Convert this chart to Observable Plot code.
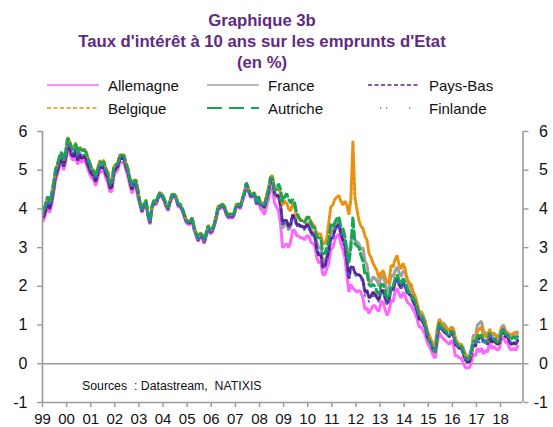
<!DOCTYPE html>
<html>
<head>
<meta charset="utf-8">
<script src="https://cdn.jsdelivr.net/npm/d3@7"></script>
<script src="https://cdn.jsdelivr.net/npm/@observablehq/plot@0.6"></script>
<style>
  html, body { margin: 0; padding: 0; background: #fff; }
  #wrap { position: relative; width: 553px; height: 427px; overflow: hidden; font-family: "Liberation Sans", Arial, sans-serif; }
  #wrap svg.overlay { position: absolute; left: 0; top: 0; pointer-events: none; }
  #chart { position: absolute; left: 0; top: 0; }
</style>
</head>
<body>
<div id="wrap"><div id="chart"></div></div>
<script>
// ---- Data (monthly readings, Jan 1999 – Sep 2018) ----
const startYear = 1999;
const yearLabels = ["99","00","01","02","03","04","05","06","07","08","09","10","11","12","13","14","15","16","17","18"];
const yTicks = [-1, 0, 1, 2, 3, 4, 5, 6];

const allemagne = [
  3.70,3.85,4.05,3.90,4.10,4.40,4.75,4.90,5.10,5.20,5.00,5.20,
  5.55,5.45,5.30,5.25,5.40,5.15,5.30,5.20,5.25,5.20,5.05,4.90,
  4.80,4.75,4.60,4.80,5.00,4.95,5.00,4.80,4.70,4.45,4.45,4.85,
  4.95,5.00,5.20,5.20,5.20,5.00,4.85,4.60,4.40,4.55,4.55,4.30,
  4.10,3.90,4.05,4.15,3.80,3.60,4.00,4.15,4.10,4.25,4.35,4.30,
  4.20,4.05,3.95,4.15,4.30,4.30,4.25,4.05,4.05,3.95,3.80,3.65,
  3.60,3.60,3.70,3.45,3.30,3.15,3.30,3.25,3.10,3.30,3.50,3.35,
  3.40,3.55,3.75,4.00,4.00,4.05,4.00,3.85,3.75,3.80,3.75,3.85,
  4.05,4.05,4.00,4.20,4.35,4.60,4.45,4.30,4.30,4.35,4.10,4.25,
  4.00,3.95,3.85,4.05,4.25,4.55,4.50,4.15,4.05,3.95,3.60,3.00,
  3.05,3.10,3.00,3.15,3.45,3.45,3.30,3.30,3.25,3.25,3.20,3.30,
  3.30,3.15,3.10,3.05,2.75,2.60,2.65,2.30,2.30,2.45,2.60,2.95,
  3.00,3.20,3.30,3.35,3.10,2.95,2.75,2.30,1.85,2.05,1.95,1.90,
  1.85,1.90,1.85,1.70,1.40,1.45,1.30,1.40,1.50,1.50,1.40,1.35,
  1.60,1.60,1.40,1.25,1.35,1.65,1.60,1.85,1.95,1.80,1.70,1.85,
  1.75,1.60,1.55,1.50,1.40,1.30,1.15,0.95,0.95,0.85,0.75,0.55,
  0.45,0.35,0.20,0.15,0.55,0.80,0.70,0.65,0.60,0.55,0.50,0.60,
  0.50,0.20,0.20,0.15,0.15,0.00,-0.10,-0.10,-0.10,0.05,0.25,0.20,
  0.40,0.30,0.40,0.25,0.35,0.30,0.55,0.40,0.45,0.40,0.35,0.40,
  0.65,0.70,0.55,0.55,0.40,0.35,0.40,0.35,0.45
];
const france = [
  3.80,3.95,4.15,4.00,4.20,4.50,4.85,5.00,5.20,5.30,5.10,5.30,
  5.70,5.60,5.45,5.40,5.55,5.30,5.45,5.35,5.40,5.35,5.20,5.05,
  4.95,4.90,4.75,4.95,5.15,5.10,5.15,4.95,4.85,4.60,4.60,5.00,
  5.05,5.10,5.30,5.30,5.30,5.10,4.95,4.70,4.50,4.65,4.65,4.40,
  4.15,3.95,4.10,4.20,3.85,3.65,4.05,4.20,4.15,4.30,4.40,4.35,
  4.25,4.10,4.00,4.20,4.35,4.35,4.30,4.10,4.10,4.00,3.85,3.70,
  3.65,3.65,3.75,3.50,3.35,3.20,3.35,3.30,3.15,3.35,3.55,3.40,
  3.45,3.60,3.80,4.05,4.05,4.10,4.05,3.90,3.80,3.85,3.80,3.90,
  4.10,4.10,4.05,4.25,4.40,4.65,4.50,4.35,4.35,4.40,4.15,4.30,
  4.10,4.05,4.00,4.20,4.40,4.70,4.70,4.35,4.30,4.30,4.05,3.50,
  3.60,3.60,3.45,3.55,3.80,3.75,3.60,3.60,3.55,3.55,3.50,3.60,
  3.65,3.50,3.40,3.35,3.15,3.00,3.00,2.65,2.65,2.80,3.05,3.40,
  3.45,3.60,3.65,3.70,3.45,3.35,3.20,3.00,2.65,3.15,3.45,3.20,
  3.15,3.10,2.95,3.00,2.65,2.55,2.15,2.10,2.25,2.20,2.15,2.00,
  2.30,2.25,2.10,1.85,1.95,2.30,2.25,2.40,2.50,2.35,2.25,2.40,
  2.35,2.15,2.00,1.95,1.80,1.70,1.55,1.30,1.35,1.25,1.10,0.85,
  0.65,0.60,0.50,0.45,0.90,1.15,1.05,1.05,1.00,0.90,0.85,0.95,
  0.90,0.65,0.55,0.50,0.50,0.40,0.25,0.20,0.20,0.40,0.75,0.70,
  1.00,1.05,1.10,0.85,0.80,0.65,0.85,0.70,0.75,0.75,0.70,0.75,
  0.95,1.00,0.85,0.80,0.75,0.70,0.75,0.70,0.80
];
const paysBas = [
  3.80,3.95,4.15,4.00,4.20,4.50,4.85,5.00,5.20,5.30,5.10,5.30,
  5.65,5.55,5.40,5.35,5.50,5.25,5.40,5.30,5.35,5.30,5.15,5.00,
  4.90,4.85,4.70,4.90,5.10,5.05,5.10,4.90,4.80,4.55,4.55,4.95,
  5.05,5.10,5.30,5.30,5.30,5.10,4.95,4.70,4.50,4.65,4.65,4.40,
  4.14,3.94,4.09,4.19,3.84,3.64,4.04,4.19,4.14,4.29,4.39,4.34,
  4.24,4.09,3.99,4.19,4.34,4.34,4.29,4.09,4.09,3.99,3.84,3.69,
  3.64,3.64,3.74,3.49,3.34,3.19,3.34,3.29,3.14,3.34,3.54,3.39,
  3.44,3.59,3.79,4.04,4.04,4.09,4.04,3.89,3.79,3.84,3.79,3.89,
  4.09,4.09,4.04,4.24,4.39,4.64,4.49,4.34,4.34,4.39,4.14,4.29,
  4.10,4.10,4.05,4.25,4.45,4.75,4.75,4.40,4.35,4.35,4.10,3.60,
  3.70,3.70,3.55,3.60,3.85,3.80,3.60,3.60,3.55,3.55,3.50,3.60,
  3.55,3.40,3.35,3.30,2.95,2.80,2.85,2.50,2.50,2.70,2.90,3.25,
  3.25,3.45,3.55,3.60,3.35,3.20,3.05,2.65,2.20,2.50,2.50,2.35,
  2.30,2.30,2.25,2.15,1.85,1.90,1.70,1.75,1.85,1.80,1.70,1.65,
  1.90,1.90,1.70,1.55,1.65,1.95,1.90,2.10,2.20,2.05,1.95,2.10,
  2.00,1.85,1.80,1.75,1.60,1.50,1.35,1.15,1.15,1.05,0.95,0.70,
  0.60,0.50,0.35,0.30,0.70,1.00,0.90,0.85,0.80,0.75,0.70,0.80,
  0.75,0.50,0.45,0.40,0.40,0.25,0.10,0.05,0.05,0.25,0.50,0.45,
  0.70,0.65,0.75,0.55,0.60,0.50,0.75,0.55,0.60,0.55,0.50,0.55,
  0.80,0.85,0.70,0.70,0.55,0.50,0.55,0.50,0.60
];
const belgique = [
  3.95,4.10,4.30,4.15,4.35,4.65,5.00,5.15,5.35,5.45,5.25,5.45,
  5.85,5.75,5.60,5.55,5.70,5.45,5.60,5.50,5.55,5.50,5.35,5.20,
  5.05,5.00,4.85,5.05,5.25,5.20,5.25,5.05,4.95,4.70,4.70,5.10,
  5.15,5.20,5.40,5.40,5.40,5.20,5.05,4.80,4.60,4.75,4.75,4.50,
  4.18,3.98,4.13,4.23,3.88,3.68,4.08,4.23,4.18,4.33,4.43,4.38,
  4.28,4.13,4.03,4.23,4.38,4.38,4.33,4.13,4.13,4.03,3.88,3.73,
  3.68,3.68,3.78,3.53,3.38,3.23,3.38,3.33,3.18,3.38,3.58,3.43,
  3.48,3.63,3.83,4.08,4.08,4.13,4.08,3.93,3.83,3.88,3.83,3.93,
  4.13,4.13,4.08,4.28,4.43,4.68,4.53,4.38,4.38,4.43,4.18,4.33,
  4.15,4.15,4.15,4.35,4.55,4.85,4.85,4.50,4.50,4.55,4.40,4.10,
  4.20,4.15,4.00,3.95,4.15,4.05,3.80,3.75,3.70,3.70,3.65,3.80,
  3.75,3.70,3.60,3.55,3.35,3.35,3.35,3.10,3.10,3.25,3.65,4.05,
  4.10,4.25,4.30,4.35,4.20,4.10,4.20,4.10,3.85,4.25,5.75,4.30,
  4.00,3.70,3.55,3.50,3.30,3.20,2.85,2.75,2.60,2.50,2.40,2.20,
  2.35,2.40,2.25,2.10,2.10,2.55,2.50,2.70,2.80,2.55,2.45,2.60,
  2.45,2.20,2.10,2.05,1.85,1.75,1.55,1.35,1.30,1.20,1.10,0.85,
  0.75,0.60,0.50,0.45,0.90,1.15,1.05,1.00,0.95,0.90,0.85,0.95,
  0.90,0.65,0.55,0.50,0.50,0.35,0.20,0.15,0.15,0.30,0.60,0.55,
  0.85,0.90,0.95,0.70,0.75,0.65,0.90,0.75,0.80,0.75,0.65,0.70,
  0.90,0.95,0.80,0.80,0.75,0.75,0.80,0.80,0.85
];
const autriche = [
  3.97,4.12,4.32,4.17,4.37,4.67,5.02,5.17,5.37,5.47,5.27,5.47,
  5.83,5.73,5.58,5.53,5.68,5.43,5.58,5.48,5.53,5.48,5.33,5.18,
  5.02,4.97,4.82,5.02,5.22,5.17,5.22,5.02,4.92,4.67,4.67,5.07,
  5.13,5.18,5.38,5.38,5.38,5.18,5.03,4.78,4.58,4.73,4.73,4.48,
  4.17,3.97,4.12,4.22,3.87,3.67,4.07,4.22,4.17,4.32,4.42,4.37,
  4.27,4.12,4.02,4.22,4.37,4.37,4.32,4.12,4.12,4.02,3.87,3.72,
  3.67,3.67,3.77,3.52,3.37,3.22,3.37,3.32,3.17,3.37,3.57,3.42,
  3.47,3.62,3.82,4.07,4.07,4.12,4.07,3.92,3.82,3.87,3.82,3.92,
  4.12,4.12,4.07,4.27,4.42,4.67,4.52,4.37,4.37,4.42,4.17,4.32,
  4.15,4.15,4.10,4.30,4.50,4.80,4.80,4.50,4.50,4.65,4.50,4.20,
  4.30,4.40,4.25,4.15,4.25,4.15,3.90,3.80,3.70,3.70,3.65,3.75,
  3.80,3.65,3.55,3.50,3.30,3.25,3.25,2.85,2.85,3.00,3.20,3.60,
  3.55,3.65,3.75,3.80,3.55,3.50,3.30,2.90,2.60,3.00,3.80,3.10,
  3.05,3.00,2.80,2.65,2.30,2.35,2.05,2.00,2.05,2.00,1.85,1.80,
  2.05,2.05,1.90,1.70,1.70,2.00,2.00,2.20,2.30,2.15,2.05,2.20,
  2.10,1.95,1.85,1.80,1.70,1.60,1.45,1.25,1.25,1.15,1.00,0.80,
  0.60,0.50,0.35,0.30,0.75,1.05,0.95,0.90,0.85,0.80,0.75,0.85,
  0.80,0.55,0.50,0.45,0.45,0.30,0.15,0.10,0.15,0.35,0.60,0.55,
  0.75,0.70,0.75,0.55,0.60,0.55,0.80,0.65,0.65,0.60,0.55,0.60,
  0.85,0.90,0.75,0.75,0.65,0.65,0.70,0.65,0.70
];
const finlande = [
  3.85,4.00,4.20,4.05,4.25,4.55,4.90,5.05,5.25,5.35,5.15,5.35,
  5.70,5.60,5.45,5.40,5.55,5.30,5.45,5.35,5.40,5.35,5.20,5.05,
  4.95,4.90,4.75,4.95,5.15,5.10,5.15,4.95,4.85,4.60,4.60,5.00,
  5.10,5.15,5.35,5.35,5.35,5.15,5.00,4.75,4.55,4.70,4.70,4.45,
  4.13,3.93,4.08,4.18,3.83,3.63,4.03,4.18,4.13,4.28,4.38,4.33,
  4.23,4.08,3.98,4.18,4.33,4.33,4.28,4.08,4.08,3.98,3.83,3.68,
  3.63,3.63,3.73,3.48,3.33,3.18,3.33,3.28,3.13,3.33,3.53,3.38,
  3.43,3.58,3.78,4.03,4.03,4.08,4.03,3.88,3.78,3.83,3.78,3.88,
  4.08,4.08,4.03,4.23,4.38,4.63,4.48,4.33,4.33,4.38,4.13,4.28,
  4.10,4.10,4.05,4.25,4.45,4.75,4.75,4.40,4.35,4.35,4.05,3.55,
  3.65,3.65,3.50,3.55,3.80,3.75,3.55,3.55,3.50,3.50,3.45,3.55,
  3.50,3.35,3.30,3.25,2.95,2.80,2.85,2.50,2.50,2.65,2.80,3.15,
  3.25,3.45,3.55,3.60,3.35,3.20,3.05,2.65,2.20,2.45,2.45,2.30,
  2.25,2.25,2.20,2.05,1.75,1.75,1.60,1.65,1.75,1.75,1.65,1.60,
  1.85,1.85,1.65,1.50,1.60,1.90,1.85,2.10,2.20,2.05,1.95,2.10,
  1.95,1.80,1.75,1.70,1.60,1.50,1.35,1.15,1.15,1.05,0.95,0.75,
  0.65,0.55,0.40,0.35,0.75,1.00,0.90,0.85,0.80,0.75,0.70,0.80,
  0.75,0.45,0.45,0.40,0.40,0.25,0.15,0.15,0.15,0.30,0.50,0.45,
  0.65,0.55,0.65,0.50,0.60,0.55,0.80,0.65,0.70,0.65,0.60,0.65,
  0.85,0.90,0.75,0.75,0.60,0.55,0.60,0.55,0.65
];

const seriesNames = ["Allemagne","France","Pays-Bas","Belgique","Autriche","Finlande"];
const seriesValues = [allemagne, france, paysBas, belgique, autriche, finlande];
const seriesColors = ["#FF66FF","#A0A0A0","#5C2384","#E8900F","#16A551","#3366FF"];
const seriesDash = [null, null, "3,2", "3,2", "8,4", "1,7"];
const legendDash = [null, null, "4,2.5", "4,2.5", "15,7", "1,6"];

// ---- Build table ----
const rows = [];
seriesValues.forEach((vals, s) => {
  vals.forEach((v, i) => rows.push({ series: seriesNames[s], t: startYear + (i + 0.5) / 12, v }));
});

const W = 553, H = 427;
const xDomain = [1999, 2018.93];
const yearTicks = yearLabels.map((_, i) => startYear + i);
const font = "'Liberation Sans', Arial, sans-serif";
const axisColor = "#9A9A9A";

const lineMarks = seriesNames.map((name, s) =>
  Plot.line(rows.filter(d => d.series === name), {
    x: "t", y: "v",
    stroke: seriesColors[s],
    strokeWidth: s === 5 ? 2 : 3,
    strokeDasharray: seriesDash[s] || undefined,
    strokeLinejoin: "miter",
    curve: "linear"
  })
);

const chart = Plot.plot({
  width: W, height: H,
  marginLeft: 42, marginRight: W - 522.5, marginTop: 131, marginBottom: 25,
  style: { fontFamily: font, fontSize: "15px", color: "#111", background: "transparent" },
  x: { domain: xDomain, axis: null, label: null },
  y: { domain: [-1, 6], axis: null, label: null },
  marks: [
    Plot.ruleY([0], { stroke: axisColor, strokeWidth: 1.6 }),
    ...lineMarks,
    Plot.ruleX([xDomain[0]], { stroke: axisColor, strokeWidth: 1.6 }),
    Plot.ruleX([xDomain[1]], { stroke: axisColor, strokeWidth: 1.6 }),
    Plot.ruleY([-1], { stroke: axisColor, strokeWidth: 1.6 }),
    Plot.axisY({ anchor: "left", label: null, ticks: yTicks, tickSize: 5, tickPadding: 10, stroke: axisColor, strokeWidth: 1.4, fill: "#111", fontSize: 16, tickFormat: d => String(d) }),
    Plot.axisY({ anchor: "right", label: null, ticks: yTicks, tickSize: 5, tickPadding: 20, textAnchor: "end", stroke: axisColor, strokeWidth: 1.4, fill: "#111", fontSize: 16, tickFormat: d => String(d) }),
    Plot.axisX({ anchor: "bottom", label: null, ticks: yearTicks, tickSize: 5, tickPadding: 6, stroke: axisColor, strokeWidth: 1.4, fill: "#111", fontSize: 15, tickFormat: (d, i) => yearLabels[i] })
  ]
});
document.getElementById("chart").appendChild(chart);

// ---- Title, legend and source (overlay) ----
const ov = d3.select("#wrap").append("svg").attr("class", "overlay").attr("width", W).attr("height", H)
  .style("font-family", font);

const titleLines = ["Graphique 3b", "Taux d'intérêt à 10 ans sur les emprunts d'Etat", "(en %)"];
const titleY = [26, 47, 68];
titleLines.forEach((t, i) => {
  ov.append("text").attr("x", 262).attr("y", titleY[i]).attr("text-anchor", "middle")
    .attr("font-weight", "bold").attr("font-size", "16.7px").attr("fill", "#5F2B83").text(t);
});

const legendPos = [
  { x: 47, y: 85 }, { x: 207, y: 85 }, { x: 368, y: 85 },
  { x: 47, y: 108 }, { x: 207, y: 108 }, { x: 368, y: 108 }
];
seriesNames.forEach((name, s) => {
  const p = legendPos[s];
  if (s === 5) {
    [380, 386, 409].forEach(dx => {
      ov.append("rect").attr("x", dx).attr("y", p.y - 0.5).attr("width", 1.3).attr("height", 1.3).attr("fill", seriesColors[s]);
    });
  } else {
    ov.append("line").attr("x1", p.x).attr("x2", p.x + 52).attr("y1", p.y).attr("y2", p.y)
      .attr("stroke", seriesColors[s]).attr("stroke-width", s === 4 ? 2 : 1.6)
      .attr("stroke-dasharray", legendDash[s]);
  }
  ov.append("text").attr("x", p.x + 61).attr("y", p.y + 5.5).attr("font-size", "15px").attr("fill", "#111").text(name);
});

ov.append("text").attr("x", 82).attr("y", 389.5).attr("font-size", "12.3px").attr("fill", "#111")
  .style("white-space", "pre").text("Sources  : Datastream,  NATIXIS");
</script>
</body>
</html>
